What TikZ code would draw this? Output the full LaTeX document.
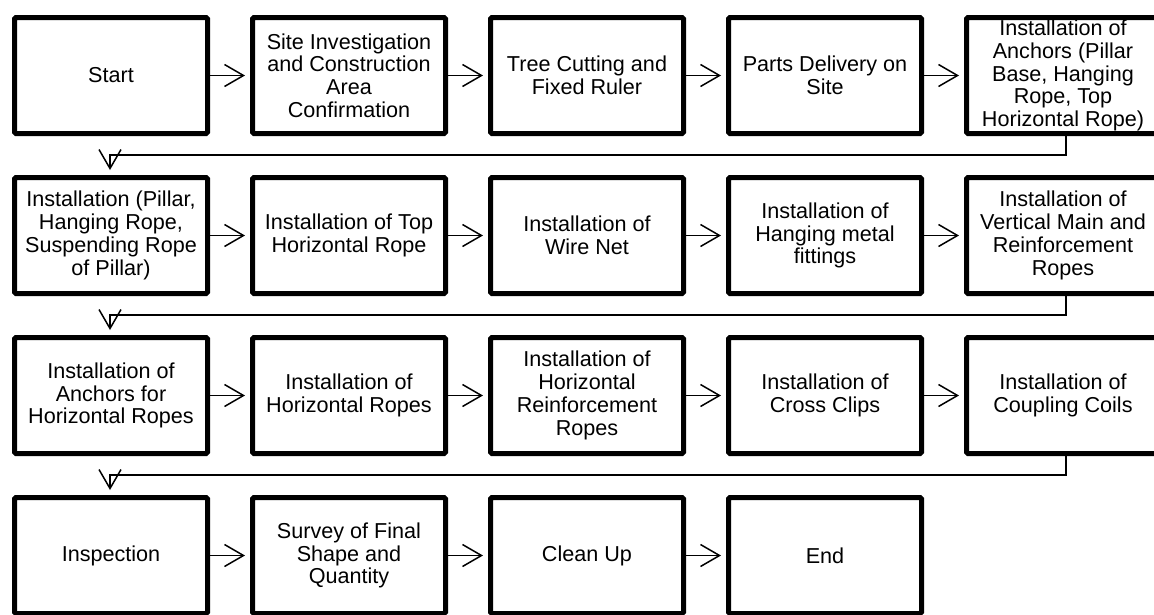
\documentclass[tikz,border=0pt]{standalone}
\usepackage{fontspec}
\setmainfont{Liberation Sans}
\usetikzlibrary{arrows.meta}
\begin{document}
\begin{tikzpicture}[x=1pt,y=-1pt,
  stepbox/.style={draw=black, line width=5pt, rounded corners=1.5pt,
    minimum width=193pt, minimum height=116pt, inner sep=0pt,
    align=center, font=\fontsize{21.6}{22.8}\selectfont},
  flow/.style={line width=1.5pt,
    -{Straight Barb[length=19pt,width=22pt,line width=1.5pt]},
    shorten >=5pt}
]
\useasboundingbox (0,0) rectangle (1154,614);
\clip (0,0) rectangle (1154,614);
\fill[white] (0,0) rectangle (1154,614);

% row 1
\node[stepbox] (a1) at (111,75.5) {Start};
\node[stepbox] (a2) at (349,75.5) {Site Investigation\\and Construction\\Area\\Confirmation};
\node[stepbox] (a3) at (587,75.5) {Tree Cutting and\\Fixed Ruler};
\node[stepbox] (a4) at (825,75.5) {Parts Delivery on\\Site};
\node[stepbox] (a5) at (1063,75.5) {Installation of\\Anchors (Pillar\\Base, Hanging\\Rope, Top\\Horizontal Rope)};

% row 2
\node[stepbox] (b1) at (111,235.5) {Installation (Pillar,\\Hanging Rope,\\Suspending Rope\\of Pillar)};
\node[stepbox] (b2) at (349,235.5) {Installation of Top\\Horizontal Rope};
\node[stepbox] (b3) at (587,235.5) {Installation of\\Wire Net};
\node[stepbox] (b4) at (825,235.5) {Installation of\\Hanging metal\\fittings};
\node[stepbox] (b5) at (1063,235.5) {Installation of\\Vertical Main and\\Reinforcement\\Ropes};

% row 3
\node[stepbox] (c1) at (111,395.5) {Installation of\\Anchors for\\Horizontal Ropes};
\node[stepbox] (c2) at (349,395.5) {Installation of\\Horizontal Ropes};
\node[stepbox] (c3) at (587,395.5) {Installation of\\Horizontal\\Reinforcement\\Ropes};
\node[stepbox] (c4) at (825,395.5) {Installation of\\Cross Clips};
\node[stepbox] (c5) at (1063,395.5) {Installation of\\Coupling Coils};

% row 4
\node[stepbox] (d1) at (111,555.5) {Inspection};
\node[stepbox] (d2) at (349,555.5) {Survey of Final\\Shape and\\Quantity};
\node[stepbox] (d3) at (587,555.5) {Clean Up};
\node[stepbox] (d4) at (825,555.5) {End};

% connectors within rows
\foreach \r in {a,b,c}{
  \draw[flow] (\r1) -- (\r2);
  \draw[flow] (\r2) -- (\r3);
  \draw[flow] (\r3) -- (\r4);
  \draw[flow] (\r4) -- (\r5);
}
\draw[flow] (d1) -- (d2);
\draw[flow] (d2) -- (d3);
\draw[flow] (d3) -- (d4);

% connectors between rows
\draw[flow] ([xshift=3pt]a5.south) -- ++(0,19) -| ([xshift=-1pt]b1.north);
\draw[flow] ([xshift=3pt]b5.south) -- ++(0,19) -| ([xshift=-1pt]c1.north);
\draw[flow] ([xshift=3pt]c5.south) -- ++(0,19) -| ([xshift=-1pt]d1.north);
\end{tikzpicture}
\end{document}
